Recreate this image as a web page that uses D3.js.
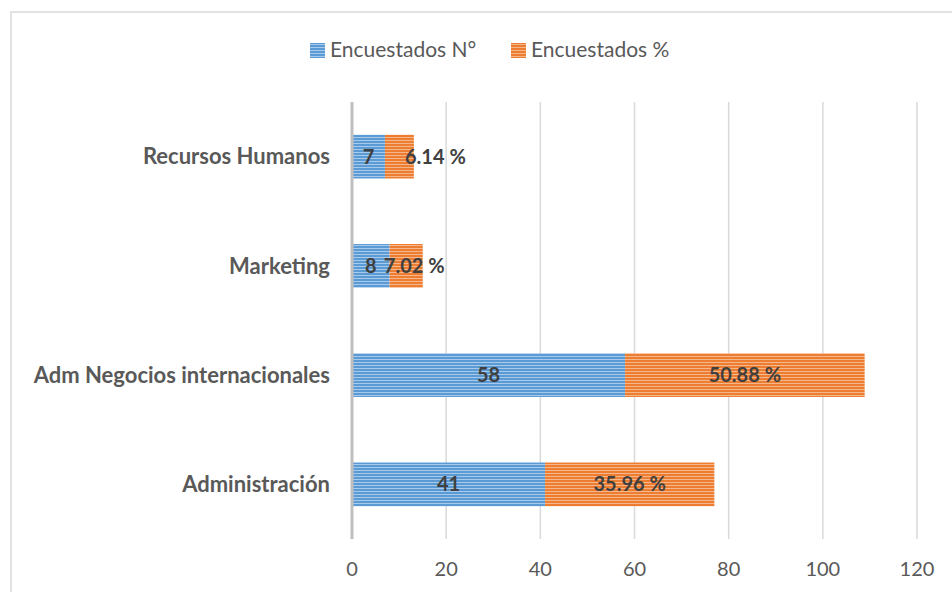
<!DOCTYPE html>
<html>
<head>
<meta charset="utf-8">
<script src="https://cdn.jsdelivr.net/npm/d3@7"></script>
<style>
  body { margin: 0; background: #fff; }
  text { font-family: Lato, "Open Sans", sans-serif; }
</style>
</head>
<body>
<div id="chart"></div>
<script>
// Data
const categories = ["Recursos Humanos", "Marketing", "Adm Negocios internacionales", "Administración"];
const countValues = [7, 8, 58, 41];
const pctValues = [6.14, 7.02, 50.88, 35.96];
const seriesNames = ["Encuestados N°", "Encuestados %"];
const xTicks = [0, 20, 40, 60, 80, 100, 120];

// Chart dimensions
let width = 952, height = 592;
let plot = { left: 352, right: 917, top: 102, bottom: 539 };

let svg = d3.select("#chart")
    .append("svg")
    .attr("width", width)
    .attr("height", height);

// striped fills
let defs = svg.append("defs");
function stripes(id, base, light) {
    let p = defs.append("pattern")
        .attr("id", id)
        .attr("patternUnits", "userSpaceOnUse")
        .attr("width", 6).attr("height", 3);
    p.append("rect").attr("width", 6).attr("height", 3).attr("fill", base);
    p.append("rect").attr("y", 2).attr("width", 6).attr("height", 1).attr("fill", light);
}
stripes("blueStripe", "#5b9bd5", "#a8c9ea");
stripes("orangeStripe", "#ed7d31", "#f6b68b");
const fills = ["url(#blueStripe)", "url(#orangeStripe)"];

// Frame
svg.append("rect")
    .attr("x", 11).attr("y", 12)
    .attr("width", 960).attr("height", 600)
    .attr("fill", "none")
    .attr("stroke", "#d9d9d9")
    .attr("stroke-width", 1.5);

// Scales
let xScale = d3.scaleLinear().domain([0, 120]).range([plot.left, plot.right]);
let yScale = d3.scaleBand()
    .domain(categories)
    .range([plot.top, plot.bottom])
    .paddingInner(0.6)
    .paddingOuter(0.3);

// Gridlines
svg.append("g")
    .selectAll("line")
    .data(xTicks.slice(1))
    .enter().append("line")
    .attr("x1", d => xScale(d)).attr("x2", d => xScale(d))
    .attr("y1", plot.top).attr("y2", plot.bottom)
    .attr("stroke", "#d9d9d9")
    .attr("stroke-width", 1.5);

// Tick labels
svg.append("g")
    .selectAll("text")
    .data(xTicks)
    .enter().append("text")
    .attr("x", d => xScale(d))
    .attr("y", 576)
    .attr("text-anchor", "middle")
    .attr("font-size", "20px")
    .attr("fill", "#595959")
    .text(d => d);

// Stack
let rows = categories.map((c, i) => ({ cat: c, n: countValues[i], p: pctValues[i] }));
let stack = d3.stack().keys(["n", "p"])(rows);

let layers = svg.selectAll(".layer")
    .data(stack)
    .enter().append("g")
    .attr("class", "layer")
    .attr("fill", (d, i) => fills[i]);

layers.selectAll("rect")
    .data(d => d)
    .enter().append("rect")
    .attr("x", d => xScale(d[0]))
    .attr("y", d => yScale(d.data.cat))
    .attr("width", d => xScale(d[1]) - xScale(d[0]))
    .attr("height", yScale.bandwidth());

// Axis line
svg.append("line")
    .attr("x1", plot.left).attr("x2", plot.left)
    .attr("y1", plot.top).attr("y2", plot.bottom)
    .attr("stroke", "#bfbfbf")
    .attr("stroke-width", 3);

// Category labels
svg.append("g")
    .selectAll("text")
    .data(categories)
    .enter().append("text")
    .attr("x", 330)
    .attr("y", d => yScale(d) + yScale.bandwidth() / 2)
    .attr("dy", "0.35em")
    .attr("text-anchor", "end")
    .attr("font-size", "22px")
    .attr("font-weight", "bold")
    .attr("fill", "#595959")
    .text(d => d);

// Data labels (small percentage labels were nudged right in the original)
const pctLabelDx = { "Recursos Humanos": 36, "Marketing": 8 };
layers.each(function(layer, li) {
    d3.select(this).selectAll("text")
        .data(layer)
        .enter().append("text")
        .attr("x", d => (xScale(d[0]) + xScale(d[1])) / 2 + (li === 1 ? (pctLabelDx[d.data.cat] || 0) : 0))
        .attr("y", d => yScale(d.data.cat) + yScale.bandwidth() / 2)
        .attr("dy", "0.35em")
        .attr("text-anchor", "middle")
        .attr("font-size", "20px")
        .attr("font-weight", "bold")
        .attr("fill", "#404040")
        .text(d => li === 0 ? d.data.n : d.data.p.toFixed(2) + " %");
});

// Legend
let legend = svg.append("g");
const legendX = [310, 511];
seriesNames.forEach(function(name, i) {
    legend.append("rect")
        .attr("x", legendX[i]).attr("y", 43)
        .attr("width", 15).attr("height", 15)
        .attr("fill", fills[i]);
    legend.append("text")
        .attr("x", legendX[i] + 20)
        .attr("y", 50)
        .attr("dy", "0.35em")
        .attr("font-size", "21px")
        .attr("fill", "#595959")
        .text(name);
});
</script>
</body>
</html>
